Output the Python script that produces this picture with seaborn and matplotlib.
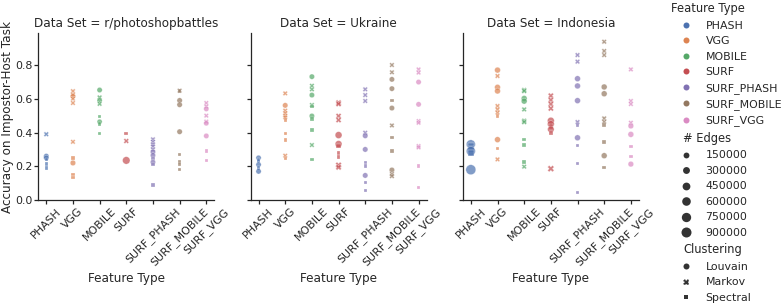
import matplotlib
matplotlib.use("Agg")
import matplotlib.pyplot as plt
import pandas as pd
import seaborn as sns

features = ["PHASH", "VGG", "MOBILE", "SURF", "SURF_PHASH", "SURF_MOBILE", "SURF_VGG"]
datasets = ["r/photoshopbattles", "Ukraine", "Indonesia"]
clusterings = ["Louvain", "Markov", "Spectral"]
L, M, S = clusterings

# (feature, accuracy, clustering, edges)
photoshop = [
    ("PHASH", 0.39, M, 60000), ("PHASH", 0.26, L, 90000), ("PHASH", 0.25, L, 80000),
    ("PHASH", 0.24, S, 40000), ("PHASH", 0.215, S, 30000), ("PHASH", 0.19, S, 20000),
    ("VGG", 0.645, M, 50000), ("VGG", 0.625, M, 50000), ("VGG", 0.615, L, 90000),
    ("VGG", 0.60, M, 40000), ("VGG", 0.575, M, 40000), ("VGG", 0.345, M, 40000),
    ("VGG", 0.25, S, 30000), ("VGG", 0.22, L, 100000), ("VGG", 0.15, S, 25000),
    ("VGG", 0.135, S, 20000),
    ("MOBILE", 0.652, L, 80000), ("MOBILE", 0.608, M, 60000), ("MOBILE", 0.59, L, 70000),
    ("MOBILE", 0.57, M, 50000), ("MOBILE", 0.494, S, 30000), ("MOBILE", 0.464, L, 60000),
    ("MOBILE", 0.45, S, 25000), ("MOBILE", 0.395, S, 20000),
    ("SURF", 0.395, S, 60000), ("SURF", 0.35, M, 80000), ("SURF", 0.235, L, 400000),
    ("SURF_PHASH", 0.36, M, 40000), ("SURF_PHASH", 0.345, M, 40000), ("SURF_PHASH", 0.33, M, 40000),
    ("SURF_PHASH", 0.318, M, 40000), ("SURF_PHASH", 0.30, M, 40000), ("SURF_PHASH", 0.285, L, 70000),
    ("SURF_PHASH", 0.265, L, 70000), ("SURF_PHASH", 0.245, S, 30000), ("SURF_PHASH", 0.225, L, 70000),
    ("SURF_PHASH", 0.21, S, 30000), ("SURF_PHASH", 0.09, S, 20000),
    ("SURF_MOBILE", 0.648, M, 60000), ("SURF_MOBILE", 0.645, S, 40000), ("SURF_MOBILE", 0.59, L, 90000),
    ("SURF_MOBILE", 0.565, L, 90000), ("SURF_MOBILE", 0.405, L, 90000), ("SURF_MOBILE", 0.27, S, 25000),
    ("SURF_MOBILE", 0.225, S, 25000), ("SURF_MOBILE", 0.21, S, 25000), ("SURF_MOBILE", 0.18, S, 20000),
    ("SURF_VGG", 0.575, M, 40000), ("SURF_VGG", 0.555, M, 40000), ("SURF_VGG", 0.54, L, 70000),
    ("SURF_VGG", 0.50, M, 40000), ("SURF_VGG", 0.465, M, 40000), ("SURF_VGG", 0.455, L, 70000),
    ("SURF_VGG", 0.38, L, 80000), ("SURF_VGG", 0.29, S, 30000), ("SURF_VGG", 0.235, S, 25000),
]

ukraine = [
    ("PHASH", 0.25, L, 80000), ("PHASH", 0.24, S, 50000), ("PHASH", 0.23, S, 50000),
    ("PHASH", 0.21, L, 80000), ("PHASH", 0.19, S, 40000), ("PHASH", 0.17, L, 80000),
    ("VGG", 0.632, M, 40000), ("VGG", 0.561, L, 90000), ("VGG", 0.53, M, 40000),
    ("VGG", 0.515, M, 40000), ("VGG", 0.50, M, 40000), ("VGG", 0.49, M, 40000),
    ("VGG", 0.474, S, 25000), ("VGG", 0.395, S, 20000), ("VGG", 0.356, S, 20000),
    ("VGG", 0.263, M, 40000), ("VGG", 0.247, S, 20000),
    ("MOBILE", 0.731, L, 80000), ("MOBILE", 0.677, M, 50000), ("MOBILE", 0.656, M, 50000),
    ("MOBILE", 0.622, L, 80000), ("MOBILE", 0.563, M, 50000), ("MOBILE", 0.553, S, 25000),
    ("MOBILE", 0.498, L, 80000), ("MOBILE", 0.48, S, 25000), ("MOBILE", 0.415, S, 20000),
    ("MOBILE", 0.326, M, 40000), ("MOBILE", 0.241, S, 20000),
    ("SURF", 0.577, M, 150000), ("SURF", 0.569, M, 120000), ("SURF", 0.498, M, 120000),
    ("SURF", 0.474, M, 120000), ("SURF", 0.385, L, 300000), ("SURF", 0.332, L, 300000),
    ("SURF", 0.32, S, 150000), ("SURF", 0.277, S, 80000), ("SURF", 0.253, S, 80000),
    ("SURF", 0.207, M, 200000), ("SURF", 0.194, M, 150000),
    ("SURF_PHASH", 0.656, M, 50000), ("SURF_PHASH", 0.622, M, 50000), ("SURF_PHASH", 0.587, M, 50000),
    ("SURF_PHASH", 0.399, M, 50000), ("SURF_PHASH", 0.381, L, 90000), ("SURF_PHASH", 0.30, L, 90000),
    ("SURF_PHASH", 0.221, S, 25000), ("SURF_PHASH", 0.201, S, 25000), ("SURF_PHASH", 0.146, L, 90000),
    ("SURF_PHASH", 0.103, S, 20000), ("SURF_PHASH", 0.055, S, 20000),
    ("SURF_MOBILE", 0.80, M, 40000), ("SURF_MOBILE", 0.757, M, 40000), ("SURF_MOBILE", 0.715, L, 80000),
    ("SURF_MOBILE", 0.66, L, 80000), ("SURF_MOBILE", 0.589, S, 20000), ("SURF_MOBILE", 0.545, L, 80000),
    ("SURF_MOBILE", 0.442, M, 40000), ("SURF_MOBILE", 0.371, S, 20000), ("SURF_MOBILE", 0.29, S, 20000),
    ("SURF_MOBILE", 0.178, L, 90000), ("SURF_MOBILE", 0.154, M, 60000), ("SURF_MOBILE", 0.142, M, 60000),
    ("SURF_VGG", 0.774, M, 40000), ("SURF_VGG", 0.755, M, 40000), ("SURF_VGG", 0.699, L, 80000),
    ("SURF_VGG", 0.567, L, 80000), ("SURF_VGG", 0.468, M, 40000), ("SURF_VGG", 0.458, M, 40000),
    ("SURF_VGG", 0.32, M, 40000), ("SURF_VGG", 0.312, M, 40000), ("SURF_VGG", 0.201, S, 20000),
    ("SURF_VGG", 0.073, S, 15000),
]

indonesia = [
    ("PHASH", 0.33, L, 700000), ("PHASH", 0.32, S, 650000), ("PHASH", 0.305, S, 600000),
    ("PHASH", 0.29, L, 700000), ("PHASH", 0.28, S, 500000), ("PHASH", 0.18, L, 900000),
    ("VGG", 0.77, L, 150000), ("VGG", 0.735, M, 60000), ("VGG", 0.668, L, 150000),
    ("VGG", 0.646, L, 150000), ("VGG", 0.557, M, 60000), ("VGG", 0.537, M, 60000),
    ("VGG", 0.518, M, 60000), ("VGG", 0.499, S, 40000), ("VGG", 0.358, L, 150000),
    ("VGG", 0.306, S, 40000), ("VGG", 0.241, M, 50000),
    ("MOBILE", 0.652, M, 80000), ("MOBILE", 0.646, M, 80000), ("MOBILE", 0.602, L, 150000),
    ("MOBILE", 0.586, L, 150000), ("MOBILE", 0.537, M, 60000), ("MOBILE", 0.47, M, 80000),
    ("MOBILE", 0.462, M, 80000), ("MOBILE", 0.36, S, 40000), ("MOBILE", 0.325, S, 40000),
    ("MOBILE", 0.227, S, 40000), ("MOBILE", 0.198, M, 50000),
    ("SURF", 0.618, M, 150000), ("SURF", 0.593, M, 150000), ("SURF", 0.569, M, 150000),
    ("SURF", 0.543, M, 150000), ("SURF", 0.47, L, 300000), ("SURF", 0.45, L, 300000),
    ("SURF", 0.435, S, 200000), ("SURF", 0.419, L, 250000), ("SURF", 0.395, S, 150000),
    ("SURF", 0.186, M, 250000),
    ("SURF_PHASH", 0.859, M, 60000), ("SURF_PHASH", 0.82, M, 60000), ("SURF_PHASH", 0.719, L, 150000),
    ("SURF_PHASH", 0.676, L, 150000), ("SURF_PHASH", 0.589, L, 150000), ("SURF_PHASH", 0.462, M, 60000),
    ("SURF_PHASH", 0.444, S, 40000), ("SURF_PHASH", 0.369, L, 150000), ("SURF_PHASH", 0.324, S, 40000),
    ("SURF_PHASH", 0.217, S, 40000), ("SURF_PHASH", 0.043, S, 10000),
    ("SURF_MOBILE", 0.938, M, 50000), ("SURF_MOBILE", 0.883, M, 50000), ("SURF_MOBILE", 0.859, M, 50000),
    ("SURF_MOBILE", 0.67, L, 150000), ("SURF_MOBILE", 0.63, L, 150000), ("SURF_MOBILE", 0.484, M, 50000),
    ("SURF_MOBILE", 0.464, M, 50000), ("SURF_MOBILE", 0.444, S, 30000), ("SURF_MOBILE", 0.344, S, 30000),
    ("SURF_MOBILE", 0.263, L, 150000), ("SURF_MOBILE", 0.194, S, 30000),
    ("SURF_VGG", 0.774, M, 50000), ("SURF_VGG", 0.587, M, 50000), ("SURF_VGG", 0.569, M, 50000),
    ("SURF_VGG", 0.458, M, 50000), ("SURF_VGG", 0.439, L, 120000), ("SURF_VGG", 0.389, L, 150000),
    ("SURF_VGG", 0.318, S, 40000), ("SURF_VGG", 0.257, S, 30000), ("SURF_VGG", 0.213, L, 120000),
]

cols = ["Feature Type", "Accuracy on Impostor-Host Task", "Clustering", "# Edges"]
frames = []
for name, rows in zip(datasets, [photoshop, ukraine, indonesia]):
    d = pd.DataFrame(rows, columns=cols)
    d["Data Set"] = name
    frames.append(d)
df = pd.concat(frames, ignore_index=True)
df["order"] = df["Feature Type"].map(features.index)
df = df.sort_values(["order"], kind="stable")

sns.set_theme(style="ticks", palette="deep")
plt.rcParams["xtick.major.size"] = 4
plt.rcParams["ytick.major.size"] = 4
plt.rcParams["xtick.major.pad"] = 2
plt.rcParams["ytick.major.pad"] = 2

g = sns.relplot(
    data=df, x="Feature Type", y="Accuracy on Impostor-Host Task",
    hue="Feature Type", hue_order=features,
    size="# Edges", sizes=(22, 100), style="Clustering", style_order=clusterings,
    col="Data Set", col_order=datasets, kind="scatter",
    alpha=0.7, height=4, aspect=0.8,
)
g.set(ylim=(0, 0.99))
for ax in g.axes.flat:
    ax.tick_params(axis="x", labelrotation=45)
g.axes.flat[0].set_ylabel("Accuracy on Impostor-Host Task", labelpad=1)

g.figure.set_size_inches(781 / 72, 305 / 72)
g.figure.subplots_adjust(left=0.049, right=0.818, bottom=0.344, top=0.892, wspace=0.206)

# legend order: hue, size, style
leg = g._legend
handles = list(leg.legend_handles)
labels = [t.get_text() for t in leg.texts]
titles = ["Feature Type", "# Edges", "Clustering"]
groups, cur = [], []
for h, lab in zip(handles, labels):
    if lab in titles and cur:
        groups.append(cur)
        cur = []
    cur.append((h, lab))
groups.append(cur)
groups.sort(key=lambda grp: titles.index(grp[0][1]))
pairs = [p for grp in groups for p in grp]
for h, _ in pairs:
    h.set_alpha(1)
leg.remove()
new_leg = g.figure.legend(
    [p[0] for p in pairs], [p[1] for p in pairs],
    loc="center right", bbox_to_anchor=(1.014, 0.5),
    frameon=False, labelspacing=0.5,
)

# subtitles: drop the empty handle slot, like seaborn does
for column in new_leg._legend_handle_box.get_children():
    for row in column.get_children():
        draw_area, text_area = row.get_children()
        text = text_area.get_children()[0]
        if text.get_text() in titles:
            draw_area.set_width(0)
            text.set_fontsize(11.5)
            if text.get_text() == "Feature Type":
                draw_area.set_width(-12)

g.figure.savefig("out.png", dpi=72)
